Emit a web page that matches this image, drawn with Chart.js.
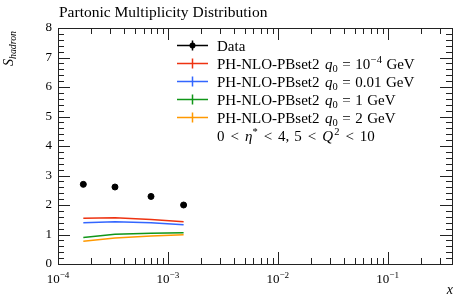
<!DOCTYPE html>
<html><head><meta charset="utf-8">
<script src="https://cdn.jsdelivr.net/npm/chart.js@4/dist/chart.umd.min.js"></script>
<style>html,body{margin:0;padding:0;background:#fff}#wrap{width:468px;height:304px}</style>
</head><body><div id="wrap"><canvas id="c" width="468" height="304"></canvas></div>
<script>
const chartTitle = 'Partonic Multiplicity Distribution';
const xValues = [1.70e-4, 3.30e-4, 7.02e-4, 1.39e-3];
const dataValues = [2.70, 2.61, 2.29, 2.00];
const pbQ0_1em4 = [1.55, 1.57, 1.51, 1.43];
const pbQ0_001 = [1.40, 1.43, 1.40, 1.33];
const pbQ0_1 = [0.90, 1.01, 1.04, 1.06];
const pbQ0_2 = [0.77, 0.88, 0.95, 0.99];
const seriesNames = ['Data', 'PH-NLO-PBset2 q0 = 10^-4 GeV', 'PH-NLO-PBset2 q0 = 0.01 GeV', 'PH-NLO-PBset2 q0 = 1 GeV', 'PH-NLO-PBset2 q0 = 2 GeV'];
const q0Labels = [['10', '−4'], ['0.01', ''], ['1', ''], ['2', '']];
const xTickValues = [1e-4, 1e-3, 1e-2, 1e-1];
const xTickExponents = ['−4', '−3', '−2', '−1'];
const yTickValues = [0, 1, 2, 3, 4, 5, 6, 7, 8];
const colors = ['#000000', '#EE3311', '#3366FF', '#109618', '#FF9900'];

const FONT = '"Liberation Serif", serif';

function pts(ys) { return xValues.map((x, i) => ({x: x, y: ys[i]})); }

function drawRich(ctx, x, y, segs, size) {
  let cx = x;
  for (const s of segs) {
    cx += s.pre || 0;
    const fs = (s.sub || s.sup) ? size * 0.7 : size;
    ctx.font = (s.it ? 'italic ' : '') + fs + 'px ' + FONT;
    const dy = s.sub ? size * 0.22 : (s.sup ? -size * 0.4 : 0);
    ctx.fillText(s.t, cx, y + dy);
    cx += ctx.measureText(s.t).width + (s.post || 0);
  }
  return cx;
}

const deco = {
  id: 'deco',
  afterDraw(chart) {
    const ctx = chart.ctx, a = chart.chartArea;
    const xs = chart.scales.x, ys = chart.scales.y;
    ctx.save();
    ctx.strokeStyle = '#222'; ctx.lineWidth = 1;
    ctx.strokeRect(Math.round(a.left) + 0.5, Math.round(a.top) + 0.5, Math.round(a.right - a.left), Math.round(a.bottom - a.top));
    ctx.beginPath();
    for (let d = -4; d <= 0; d++) {
      for (let k = 1; k <= 9; k++) {
        const v = k * Math.pow(10, d);
        if (v < xs.min - 1e-12 || v > xs.max) continue;
        const px = Math.round(xs.getPixelForValue(v)) + 0.5;
        const L = k === 1 ? 12 : 6;
        ctx.moveTo(px, a.bottom); ctx.lineTo(px, a.bottom - L);
        ctx.moveTo(px, a.top); ctx.lineTo(px, a.top + L);
      }
    }
    for (let i = 0; i <= 40; i++) {
      const v = i * 0.2;
      const py = Math.round(ys.getPixelForValue(v)) + 0.5;
      const L = i % 5 === 0 ? 12 : 6;
      ctx.moveTo(a.left, py); ctx.lineTo(a.left + L, py);
      ctx.moveTo(a.right, py); ctx.lineTo(a.right - L, py);
    }
    ctx.stroke();

    ctx.fillStyle = '#000';
    ctx.textBaseline = 'alphabetic';
    xTickValues.forEach((v, i) => {
      const px = xs.getPixelForValue(v);
      ctx.font = '13px ' + FONT;
      const w1 = ctx.measureText('10').width;
      ctx.font = '9.1px ' + FONT;
      const w2 = ctx.measureText(xTickExponents[i]).width;
      const x0 = px - (w1 + w2) / 2;
      drawRich(ctx, x0, 283, [{t: '10'}, {t: xTickExponents[i], sup: true}], 13);
    });
    ctx.font = '15.5px ' + FONT;
    ctx.fillText(chartTitle, 59, 17);
    ctx.font = 'italic 14px ' + FONT;
    ctx.textAlign = 'right';
    ctx.fillText('x', 453, 294);
    ctx.textAlign = 'left';
    ctx.save();
    ctx.translate(13, 66);
    ctx.rotate(-Math.PI / 2);
    drawRich(ctx, 0, 0, [{t: 'S', it: true}, {t: 'hadron', it: true, sub: true}], 14);
    ctx.restore();

    const lx0 = 177, lx1 = 208, tx = 217, fs = 15;
    for (let i = 0; i < 5; i++) {
      const cy = 45.5 + 18 * i;
      ctx.strokeStyle = colors[i]; ctx.lineWidth = 1.5;
      ctx.beginPath();
      ctx.moveTo(lx0, cy); ctx.lineTo(lx1, cy);
      ctx.moveTo((lx0 + lx1) / 2, cy - 5); ctx.lineTo((lx0 + lx1) / 2, cy + 5);
      ctx.stroke();
      if (i === 0) {
        ctx.fillStyle = '#000';
        ctx.beginPath(); ctx.arc((lx0 + lx1) / 2, cy, 3, 0, Math.PI * 2); ctx.fill();
      }
      ctx.fillStyle = '#000';
      if (i === 0) {
        drawRich(ctx, tx, cy + 5, [{t: seriesNames[0]}], fs);
      } else {
        const q = q0Labels[i - 1];
        const segs = [{t: 'PH-NLO-PBset2'}, {t: 'q', it: true, pre: 5.5}, {t: '0', sub: true}, {t: '=', pre: 4.5, post: 4.5}, {t: q[0]}];
        if (q[1]) segs.push({t: q[1], sup: true, pre: 0.5});
        segs.push({t: 'GeV', pre: 4.5});
        drawRich(ctx, tx, cy + 5, segs, fs);
      }
    }
    drawRich(ctx, tx, 45.5 + 18 * 5 + 5, [
      {t: '0'}, {t: '<', pre: 6, post: 6}, {t: 'η', it: true}, {t: '*', sup: true},
      {t: '<', pre: 6, post: 6}, {t: '4,'}, {t: '5', pre: 5}, {t: '<', pre: 6, post: 6},
      {t: 'Q', it: true}, {t: '2', sup: true, pre: 1}, {t: '<', pre: 6, post: 6}, {t: '10'}], fs);
    ctx.restore();
  }
};

new Chart(document.getElementById('c'), {
  type: 'line',
  data: {
    datasets: [
      {label: seriesNames[0], data: pts(dataValues), showLine: false, pointRadius: 3, pointBackgroundColor: '#000', pointBorderColor: '#000', borderColor: '#000', order: 0},
      {label: seriesNames[1], data: pts(pbQ0_1em4), borderColor: colors[1], borderWidth: 1.5, pointRadius: 0, order: 1},
      {label: seriesNames[2], data: pts(pbQ0_001), borderColor: colors[2], borderWidth: 1.5, pointRadius: 0, order: 2},
      {label: seriesNames[3], data: pts(pbQ0_1), borderColor: colors[3], borderWidth: 1.5, pointRadius: 0, order: 3},
      {label: seriesNames[4], data: pts(pbQ0_2), borderColor: colors[4], borderWidth: 1.5, pointRadius: 0, order: 4}
    ]
  },
  options: {
    responsive: false,
    animation: false,
    layout: {padding: {left: 0, right: 16, top: 28, bottom: 0}},
    plugins: {legend: {display: false}, tooltip: {enabled: false}, title: {display: false}},
    scales: {
      x: {
        type: 'logarithmic', min: 1e-4, max: 0.385,
        grid: {display: false, drawTicks: false}, border: {display: false},
        ticks: {display: false},
        afterFit: s => { s.height = 40; }
      },
      y: {
        type: 'linear', min: 0, max: 8,
        afterBuildTicks: s => { s.ticks = yTickValues.map(v => ({value: v})); },
        grid: {display: false, drawTicks: false}, border: {display: false},
        ticks: {padding: 6, color: '#000', font: {family: '"Liberation Serif", serif', size: 13}},
        afterFit: s => { s.width = 58; }
      }
    }
  },
  plugins: [deco]
});
</script></body></html>
